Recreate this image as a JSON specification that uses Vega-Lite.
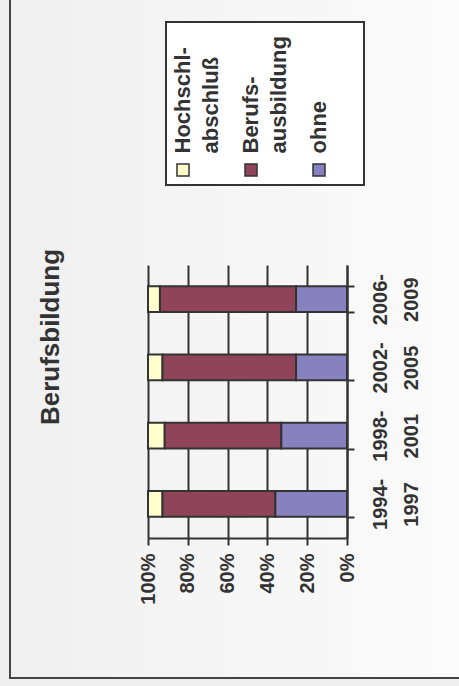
{
  "$schema": "https://vega.github.io/schema/vega-lite/v6.json",
  "width": 451,
  "height": 688,
  "autosize": {"type": "none"},
  "padding": {"left": 10, "top": -10, "right": -2, "bottom": 8},
  "background": "#eeeeee",
  "config": {
    "font": "Liberation Sans",
    "view": {
      "stroke": "#444444",
      "strokeWidth": 2,
      "fill": {"expr": "{gradient: 'linear', stops: [{offset: 0, color: '#f0f0f0'}, {offset: 1, color: '#fbfbfb'}]}"}
    }
  },
  "title": {
    "text": "Berufsbildung",
    "orient": "left",
    "frame": "group",
    "anchor": "middle",
    "offset": -54,
    "dx": -3,
    "fontSize": 26,
    "fontWeight": "bold",
    "font": "Liberation Sans",
    "color": "#333333"
  },
  "data": {
    "values": [
      {"Zeitraum": "1994-1997", "Bildung": "Hochschl-abschluß", "Rang": 3, "Anteil": 7.3},
      {"Zeitraum": "1994-1997", "Bildung": "Berufs-ausbildung", "Rang": 2, "Anteil": 56.7},
      {"Zeitraum": "1994-1997", "Bildung": "ohne", "Rang": 1, "Anteil": 36.0},
      {"Zeitraum": "1998-2001", "Bildung": "Hochschl-abschluß", "Rang": 3, "Anteil": 8.4},
      {"Zeitraum": "1998-2001", "Bildung": "Berufs-ausbildung", "Rang": 2, "Anteil": 58.6},
      {"Zeitraum": "1998-2001", "Bildung": "ohne", "Rang": 1, "Anteil": 33.0},
      {"Zeitraum": "2002-2005", "Bildung": "Hochschl-abschluß", "Rang": 3, "Anteil": 7.3},
      {"Zeitraum": "2002-2005", "Bildung": "Berufs-ausbildung", "Rang": 2, "Anteil": 67.1},
      {"Zeitraum": "2002-2005", "Bildung": "ohne", "Rang": 1, "Anteil": 25.6},
      {"Zeitraum": "2006-2009", "Bildung": "Hochschl-abschluß", "Rang": 3, "Anteil": 6.0},
      {"Zeitraum": "2006-2009", "Bildung": "Berufs-ausbildung", "Rang": 2, "Anteil": 68.4},
      {"Zeitraum": "2006-2009", "Bildung": "ohne", "Rang": 1, "Anteil": 25.6}
    ]
  },
  "encoding": {
    "y": {
      "field": "Zeitraum",
      "type": "nominal",
      "sort": ["2006-2009", "2002-2005", "1998-2001", "1994-1997"],
      "scale": {"range": [275, 548], "paddingInner": 0.62, "paddingOuter": 0.31},
      "axis": {
        "orient": "right",
        "offset": -114,
        "title": null,
        "tickBand": "extent",
        "labelAngle": 270,
        "labelAlign": "center",
        "labelBaseline": "top",
        "labelExpr": "[slice(datum.label, 0, 5), slice(datum.label, 5)]",
        "labelFont": "Liberation Sans",
        "labelFontSize": 20,
        "labelFontWeight": "bold",
        "labelColor": "#333333",
        "labelPadding": 16,
        "labelLineHeight": 31,
        "labelLimit": 300,
        "tickSize": 7,
        "tickWidth": 2,
        "tickColor": "#333333",
        "domainColor": "#333333",
        "domainWidth": 2,
        "grid": false
      }
    }
  },
  "layer": [
    {
      "mark": {"type": "bar", "opacity": 0},
      "encoding": {
        "x": {
          "field": "Anteil",
          "type": "quantitative",
          "stack": "normalize",
          "scale": {"domain": [0, 1], "range": [337, 138]},
          "axis": {
            "orient": "bottom",
            "offset": -140,
            "title": null,
            "values": [0, 0.2, 0.4, 0.6, 0.8, 1],
            "labels": false,
            "domain": false,
            "grid": false,
            "tickSize": -273,
            "tickWidth": 2,
            "tickColor": "#333333",
            "zindex": 0
          }
        }
      }
    },
    {
      "mark": {"type": "bar", "stroke": "#333333", "strokeWidth": 2, "opacity": 1},
      "encoding": {
        "x": {
          "field": "Anteil",
          "type": "quantitative",
          "stack": "normalize",
          "scale": {"domain": [0, 1], "range": [337, 138]},
          "axis": {
            "orient": "bottom",
            "offset": -140,
            "title": null,
            "values": [0, 0.2, 0.4, 0.6, 0.8, 1],
            "format": "%",
            "labelAngle": 270,
            "labelAlign": "right",
            "labelBaseline": "middle",
            "labelFlush": false,
            "labelOverlap": false,
            "labelFont": "Liberation Sans",
            "labelFontSize": 20,
            "labelFontWeight": "bold",
            "labelColor": "#333333",
            "labelPadding": 8,
            "tickSize": 7,
            "tickWidth": 2,
            "tickColor": "#333333",
            "domainColor": "#333333",
            "domainWidth": 2,
            "grid": false
          }
        },
        "order": {"field": "Rang", "type": "quantitative"},
        "color": {
          "field": "Bildung",
          "type": "nominal",
          "sort": ["Hochschl-abschluß", "Berufs-ausbildung", "ohne"],
          "scale": {
            "domain": ["Hochschl-abschluß", "Berufs-ausbildung", "ohne"],
            "range": ["#ffffcc", "#8f4459", "#8782bf"]
          },
          "legend": {
            "orient": "none",
            "legendX": 156,
            "legendY": 32,
            "direction": "horizontal",
            "columns": 3,
            "title": " ",
            "titleFontSize": 120,
            "titlePadding": 11,
            "titleOrient": "top",
            "padding": 6,
            "strokeColor": "#333333",
            "fillColor": "#ffffff",
            "symbolType": "square",
            "symbolSize": 144,
            "symbolStrokeColor": "#333333",
            "symbolStrokeWidth": 1.5,
            "symbolOpacity": 1,
            "labelFont": "Liberation Sans",
            "labelFontSize": 22,
            "labelFontWeight": "bold",
            "labelColor": "#333333",
            "labelLimit": 300,
            "labelOffset": 0,
            "labelAlign": "left",
            "labelBaseline": "top",
            "labelExpr": "datum.label == 'ohne' ? ['ohne', ''] : split(replace(datum.label, '-', '-|'), '|')",
            "columnPadding": 17,
            "gridAlign": "all",
            "encoding": {
              "legend": {
                "strokeWidth": {"value": 2}
              },
              "labels": {
                "angle": {"value": 270},
                "dx": {"value": 16.5},
                "dy": {"value": -21},
                "lineHeight": {"value": 28}
              }
            }
          }
        }
      }
    }
  ],
  "resolve": {"axis": {"x": "independent"}}
}
